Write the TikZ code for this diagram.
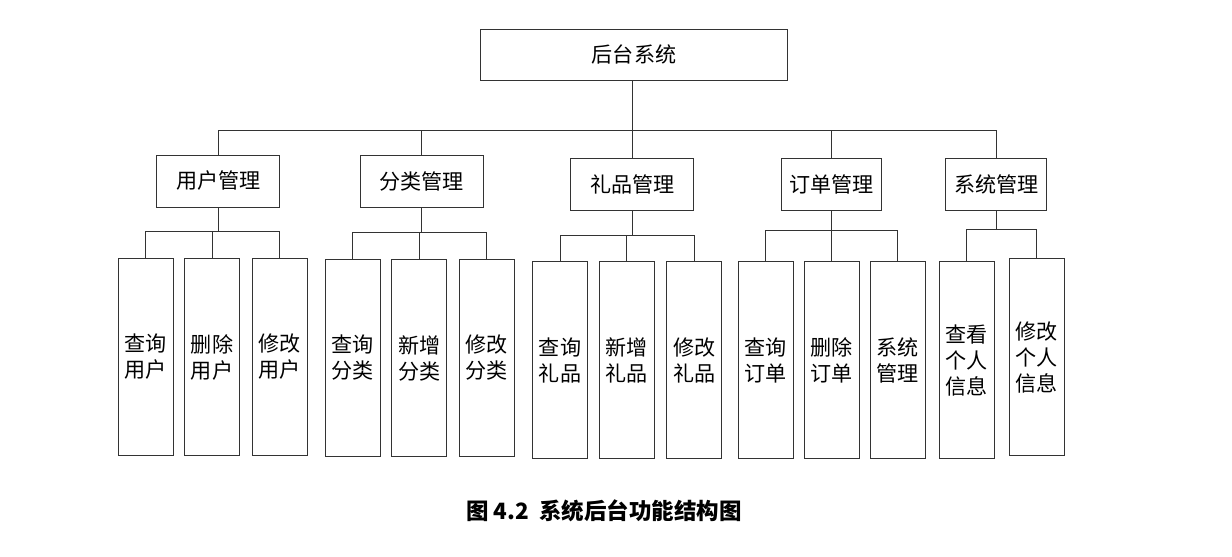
\documentclass[tikz,border=0pt]{standalone}
\usepackage{fontspec}
\newfontfamily\cjk{Noto Sans CJK SC}
\begin{document}
\begin{tikzpicture}[x=0.02cm,y=-0.02cm,line width=0.55pt,
  box/.style={draw=black!80,inner sep=0pt,align=center,
    font=\cjk\fontsize{12}{14.8}\selectfont},
  rootbox/.style={box,minimum width=6.16cm,minimum height=1.02cm},
  midbox/.style={box,minimum width=2.46cm,minimum height=1.04cm},
  leafbox/.style={box,minimum width=1.1cm,minimum height=3.94cm},
  link/.style={draw=black!80}]
\useasboundingbox (0,0) rectangle (1232,557);
\node (root) at (634,54.5) [rootbox] {后台系统};
\node (user)   at (218.3,181) [midbox] {用户管理};
\node (cat)    at (421.7,181) [midbox] {分类管理};
\node (gift)   at (632.3,184) [midbox] {礼品管理};
\node (order)  at (831.7,184) [midbox,minimum width=2cm] {订单管理};
\node (sys)    at (996.2,184) [midbox,minimum width=2.02cm] {系统管理};
\node (user1)  at (145.8,357) [leafbox] {查询\\用户};
\node (user2)  at (212,357)   [leafbox] {删除\\用户};
\node (user3)  at (279.8,357) [leafbox] {修改\\用户};
\node (cat1)   at (352.8,358) [leafbox] {查询\\分类};
\node (cat2)   at (419.2,358) [leafbox] {新增\\分类};
\node (cat3)   at (486.8,358) [leafbox] {修改\\分类};
\node (gift1)  at (560,360.3)   [leafbox] {查询\\礼品};
\node (gift2)  at (626.6,360.3) [leafbox] {新增\\礼品};
\node (gift3)  at (694.2,360.3) [leafbox] {修改\\礼品};
\node (order1) at (765.8,360.3) [leafbox] {查询\\订单};
\node (order2) at (831.7,360.3) [leafbox] {删除\\订单};
\node (order3) at (897.6,360.3) [leafbox] {系统\\管理};
\node (sys1)   at (966.9,360.3) [leafbox] {查看\\个人\\信息};
\node (sys2)   at (1036.8,357.2) [leafbox] {修改\\个人\\信息};
\node (caption) at (604,511) [font=\cjk\bfseries\fontsize{12.8}{15}\selectfont] {图\ 4.2\ \ 系统后台功能结构图};
% bus lines
\coordinate (bus)  at (0,130);
\coordinate (bus1) at (0,231.7);
\coordinate (bus2) at (0,232.7);
\coordinate (bus3) at (0,235);
\coordinate (bus4) at (0,230);
\coordinate (bus5) at (0,229);
\draw [link] (root.south -| gift.north) -- (gift.north |- bus) -| (user.north);
\draw [link] (gift.north |- bus) -- (gift.north);
\draw [link] (gift.north |- bus) -| (cat.north);
\draw [link] (gift.north |- bus) -| (order.north);
\draw [link] (gift.north |- bus) -| (sys.north);
\draw [link] (user.south) -- (user.south |- bus1) -| (user1.north);
\draw [link] (user.south |- bus1) -| (user2.north);
\draw [link] (user.south |- bus1) -| (user3.north);
\draw [link] (cat.south) -- (cat.south |- bus2) -| (cat1.north);
\draw [link] (cat.south |- bus2) -| (cat2.north);
\draw [link] (cat.south |- bus2) -| (cat3.north);
\draw [link] (gift.south) -- (gift.south |- bus3) -| (gift1.north);
\draw [link] (gift.south |- bus3) -| (gift2.north);
\draw [link] (gift.south |- bus3) -| (gift3.north);
\draw [link] (order.south) -- (order.south |- bus4) -| (order1.north);
\draw [link] (order.south |- bus4) -| (order2.north);
\draw [link] (order.south |- bus4) -| (order3.north);
\draw [link] (sys.south) -- (sys.south |- bus5) -| (sys1.north);
\draw [link] (sys.south |- bus5) -| (sys2.north);
\end{tikzpicture}
\end{document}
